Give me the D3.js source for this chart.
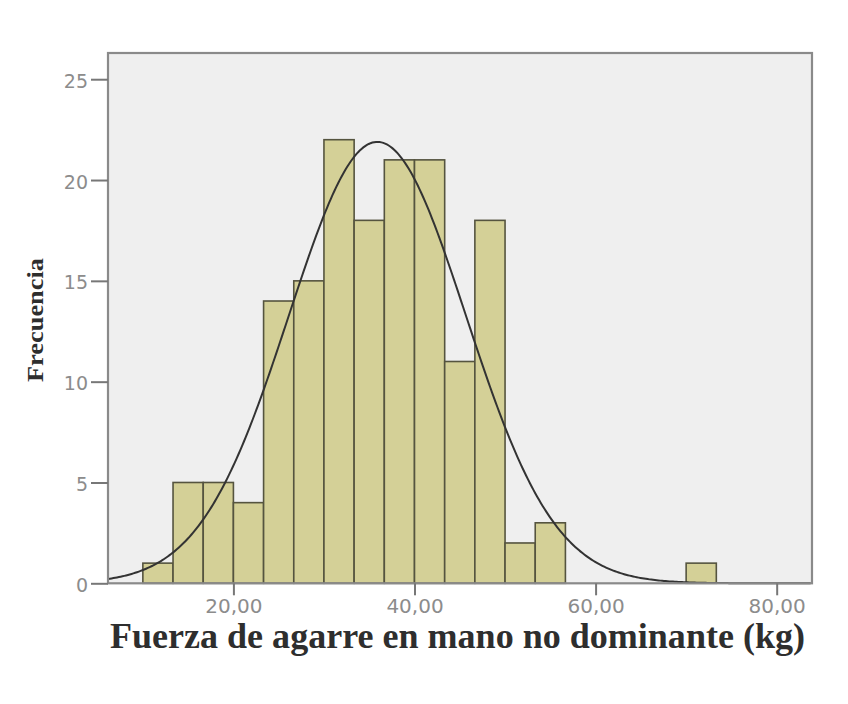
<!DOCTYPE html>
<html lang="es">
<head>
    <meta charset="UTF-8">
    <title>Fuerza de agarre en mano no dominante</title>
    <style>
        body { margin: 0; background: #fff; }
    </style>
</head>
<body>
    <script src="https://d3js.org/d3.v7.min.js"></script>
    <script>
        // histogram bins (kg), width 10/3
        let binStarts = [10, 13.333, 16.667, 20, 23.333, 26.667, 30, 33.333, 36.667, 40,
                         43.333, 46.667, 50, 53.333, 70];
        let counts = [1, 5, 5, 4, 14, 15, 22, 18, 21, 21, 11, 18, 2, 3, 1];
        let binWidth = 10 / 3;

        let xTicks = [20, 40, 60, 80];
        let yTicks = [0, 5, 10, 15, 20, 25];

        // normal curve
        let fitMean = 35.9;
        let fitSd = 9.78;
        let fitN = 161;

        let W = 848, H = 704;
        let plotLeft = 108, plotRight = 812, plotTop = 53, plotBottom = 583.3;

        let svg = d3.select("body").append("svg")
            .attr("width", W)
            .attr("height", H);

        let x = d3.scaleLinear().domain([6.15, 83.9]).range([plotLeft, plotRight]);
        let y = d3.scaleLinear().domain([0, 26.3]).range([plotBottom, plotTop]);

        // plot background
        svg.append("rect")
            .attr("x", plotLeft).attr("y", plotTop)
            .attr("width", plotRight - plotLeft).attr("height", plotBottom - plotTop)
            .attr("fill", "#efefef");

        // bars
        let bars = binStarts.map(function(s, i){ return {x0: s, x1: s + binWidth, n: counts[i]}; });
        svg.selectAll("rect.bar").data(bars).enter().append("rect")
            .attr("class", "bar")
            .attr("x", function(d){ return x(d.x0); })
            .attr("width", function(d){ return x(d.x1) - x(d.x0); })
            .attr("y", function(d){ return y(d.n); })
            .attr("height", function(d){ return y(0) - y(d.n); })
            .attr("fill", "#d4d097")
            .attr("stroke", "#55543f")
            .attr("stroke-width", 1.6);

        // fitted normal curve
        let pts = d3.range(6.15, 83.9, 0.2).map(function(v){
            let z = (v - fitMean) / fitSd;
            let f = fitN * binWidth / (fitSd * Math.sqrt(2 * Math.PI)) * Math.exp(-0.5 * z * z);
            return [v, f];
        });
        svg.append("path")
            .datum(pts)
            .attr("fill", "none")
            .attr("stroke", "#333")
            .attr("stroke-width", 2)
            .attr("d", d3.line().x(function(d){ return x(d[0]); }).y(function(d){ return y(d[1]); }));

        // frame
        svg.append("rect")
            .attr("x", plotLeft).attr("y", plotTop)
            .attr("width", plotRight - plotLeft).attr("height", plotBottom - plotTop)
            .attr("fill", "none")
            .attr("stroke", "#8a8a8a")
            .attr("stroke-width", 2.2);

        // y axis
        let yAxis = d3.axisLeft(y).tickValues(yTicks).tickSize(17).tickPadding(3)
            .tickFormat(d3.format("d"));
        let gy = svg.append("g").attr("transform", "translate(" + plotLeft + ",0)").call(yAxis);
        gy.select(".domain").remove();
        gy.selectAll("line").attr("stroke", "#777").attr("stroke-width", 2);
        gy.selectAll("text")
            .attr("font-family", "DejaVu Sans, sans-serif")
            .attr("font-size", 19)
            .attr("fill", "#8c8c8c")
            .attr("dy", "0.42em");

        // x axis
        let fmt = function(d){ return d.toFixed(2).replace(".", ","); };
        let xAxis = d3.axisBottom(x).tickValues(xTicks).tickSize(12).tickPadding(4).tickFormat(fmt);
        let gx = svg.append("g").attr("transform", "translate(0," + plotBottom + ")").call(xAxis);
        gx.select(".domain").remove();
        gx.selectAll("line").attr("stroke", "#777").attr("stroke-width", 2);
        gx.selectAll("text")
            .attr("font-family", "DejaVu Sans, sans-serif")
            .attr("font-size", 20)
            .attr("fill", "#8c8c8c");

        // axis titles
        svg.append("text")
            .attr("x", 110).attr("y", 648)
            .attr("textLength", 695)
            .attr("lengthAdjust", "spacingAndGlyphs")
            .attr("font-family", "Liberation Serif, Times New Roman, serif")
            .attr("font-weight", "bold")
            .attr("font-size", 35)
            .attr("fill", "#2e2e2e")
            .text("Fuerza de agarre en mano no dominante (kg)");

        svg.append("text")
            .attr("transform", "translate(43,320) rotate(-90)")
            .attr("text-anchor", "middle")
            .attr("textLength", 124)
            .attr("lengthAdjust", "spacingAndGlyphs")
            .attr("font-family", "Liberation Serif, Times New Roman, serif")
            .attr("font-weight", "bold")
            .attr("font-size", 24)
            .attr("fill", "#2e2e2e")
            .text("Frecuencia");
    </script>
</body>
</html>
